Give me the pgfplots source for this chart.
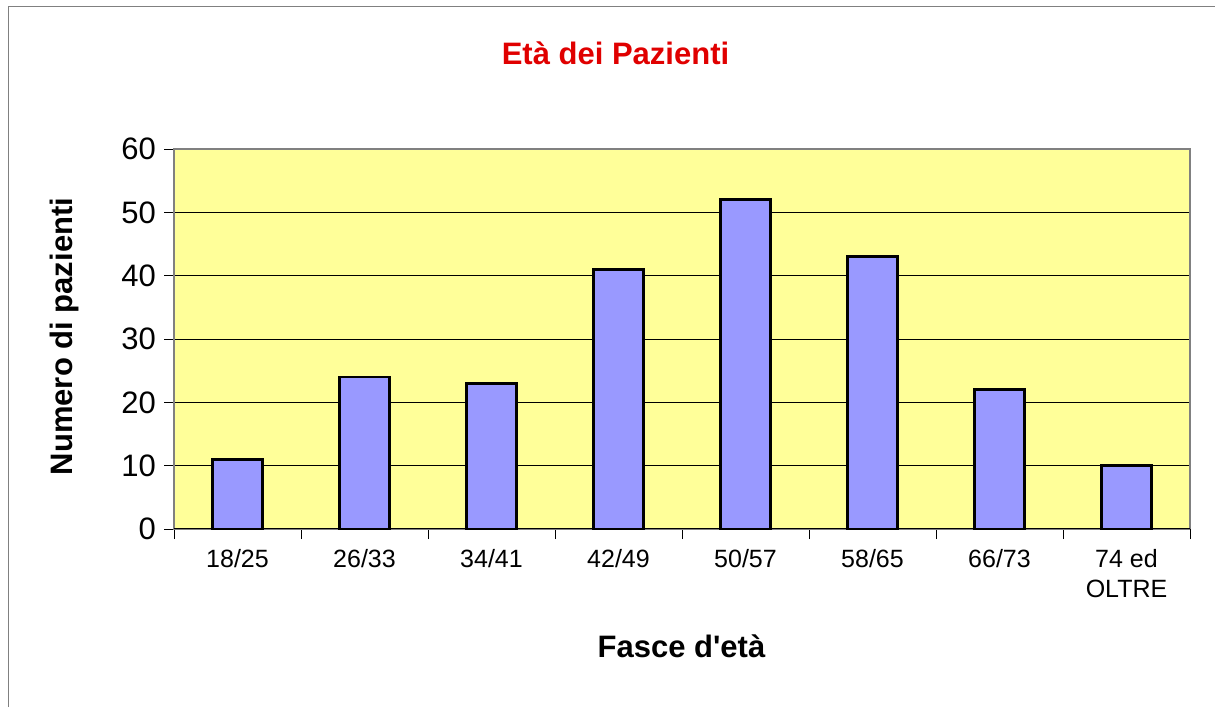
\documentclass[border=0pt]{standalone}
\usepackage{pgfplots}
\pgfplotsset{compat=1.18}
\usepackage{fontspec}
\setmainfont{Liberation Sans}[Ligatures=TeXOff]
\definecolor{bgyellow}{HTML}{FFFF99}
\definecolor{barblue}{HTML}{9999FF}
\definecolor{titlered}{HTML}{E00000}
\definecolor{framegray}{HTML}{808080}
\begin{document}
\begin{tikzpicture}[x=1pt,y=1pt]
\useasboundingbox (0,0) rectangle (1215,707);
\draw[framegray, line width=1.5pt] (8.3,0) -- (8.3,700.3) -- (1215,700.3);
\begin{axis}[
  at={(174pt,178pt)}, anchor=south west,
  scale only axis, width=1016pt, height=380pt,
  xmin=-0.5, xmax=7.5, ymin=0, ymax=60,
  ytick={0,10,...,60},
  xtick={-0.5,0.5,...,6.5},
  xticklabels={18/25,26/33,34/41,42/49,50/57,58/65,66/73,{74 ed\\OLTRE}},
  extra x ticks={7.5}, extra x tick labels={},
  xtick pos=bottom, ytick pos=left,
  tick align=outside, major tick length=10pt,
  tick style={black, line width=0.8pt},
  axis line style={framegray, line width=1.5pt},
  axis background/.style={fill=bgyellow},
  ymajorgrids, major grid style={black, line width=0.8pt},
  /pgf/number format/assume math mode=true,
  yticklabel style={font=\fontsize{31}{36}\selectfont, anchor=east, inner sep=0pt, xshift=-8pt},
  xticklabel style={font=\fontsize{25}{30}\selectfont, align=center, anchor=north, inner sep=0pt, xshift=63.5pt, yshift=-10pt},
  ybar, bar width=50pt,
  clip=false,
]
\addplot[fill=barblue, draw=black, line width=2.5pt] coordinates {(0,11) (1,24) (2,23) (3,41) (4,52) (5,43) (6,22) (7,10)};
\draw[black, line width=1pt] (axis cs:-0.5,0) -- (axis cs:7.5,0);
\end{axis}
\node[anchor=base, text=titlered, font=\bfseries\fontsize{31}{36}\selectfont, inner sep=0pt] at (615.5,642) {Età dei Pazienti};
\node[anchor=base, font=\bfseries\fontsize{31}{36}\selectfont, inner sep=0pt] at (681.5,50) {Fasce d'età};
\node[anchor=base, rotate=90, font=\bfseries\fontsize{31}{36}\selectfont, inner sep=0pt] at (72,370.5) {Numero di pazienti};
\end{tikzpicture}
\end{document}
